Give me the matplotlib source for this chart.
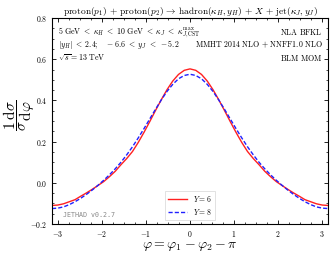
import numpy as np
import matplotlib
matplotlib.use("Agg")
import matplotlib.pyplot as plt
from matplotlib.ticker import MultipleLocator

plt.rcParams['mathtext.fontset'] = 'cm'
plt.rcParams['font.family'] = ['DejaVu Serif']

# phi = k*pi/24, k = -24..24 (values symmetric in phi)
phi = np.pi / 24 * np.arange(-24, 25)
half_y6 = [0.553, 0.546, 0.526, 0.494, 0.452, 0.403, 0.351, 0.297, 0.245, 0.196, 0.152, 0.118,
           0.088, 0.056, 0.030, 0.006, -0.013, -0.0315, -0.049, -0.065, -0.082, -0.092, -0.102, -0.108, -0.110]
half_y8 = [0.527, 0.521, 0.505, 0.478, 0.4435, 0.402, 0.357, 0.310, 0.263, 0.218, 0.175, 0.136,
           0.100, 0.068, 0.039, 0.0125, -0.012, -0.035, -0.056, -0.075, -0.092, -0.106, -0.117, -0.123, -0.125]
y6 = half_y6[::-1] + half_y6[1:]
y8 = half_y8[::-1] + half_y8[1:]

fig = plt.figure(figsize=(3.35, 2.56), dpi=100)
ax = fig.add_axes([52/335, 1 - 224/256, (328-52)/335, (224-18)/256])

ax.plot(phi, y6, color='#ff2020', lw=1.0, label=r'$Y = 6$')
ax.plot(phi, y8, color='#2020ff', lw=1.0, ls=(0, (3, 1.5)), label=r'$Y = 8$')

ax.set_xlim(-np.pi, np.pi)
ax.set_ylim(-0.2, 0.8)
ax.xaxis.set_major_locator(MultipleLocator(1))
ax.xaxis.set_minor_locator(MultipleLocator(0.25))
ax.yaxis.set_major_locator(MultipleLocator(0.2))
ax.yaxis.set_minor_locator(MultipleLocator(0.05))
ax.tick_params(which='both', direction='in', top=True, right=True, labelsize=5.5)
ax.tick_params(which='major', length=3, width=0.6)
ax.tick_params(which='minor', length=1.5, width=0.5)
for s in ax.spines.values():
    s.set_linewidth(0.8)
ax.set_xticks([-3, -2, -1, 0, 1, 2, 3])
ax.set_xticklabels([r'$-3$', r'$-2$', r'$-1$', r'$0$', r'$1$', r'$2$', r'$3$'])
ax.set_yticks([-0.2, 0.0, 0.2, 0.4, 0.6, 0.8])
ax.set_yticklabels([r'$-0.2$', r'$0.0$', r'$0.2$', r'$0.4$', r'$0.6$', r'$0.8$'])

ax.set_xlabel(r'$\varphi = \varphi_1 - \varphi_2 - \pi$', fontsize=10, labelpad=0)
fig.text(19/335, 1 - 115/256, r'$\dfrac{1}{\sigma}\dfrac{\mathrm{d}\sigma}{\mathrm{d}\varphi}$',
         fontsize=11, rotation=90, ha='center', va='center')
ax.set_title(r'$\mathrm{proton}(p_1)\, +\, \mathrm{proton}(p_2)\, \rightarrow\, \mathrm{hadron}(\kappa_H, y_H)\, +\, X\, +\, \mathrm{jet}(\kappa_J, y_J)$',
             fontsize=6.8, pad=3)

fs = 5.7
ax.text(0.02, 0.93, r'$5\ \mathrm{GeV}\ <\ \kappa_H\ <\ 10\ \mathrm{GeV}\ <\ \kappa_J\ <\ \kappa_{J,\mathrm{CST}}^{\mathrm{max}}$',
        transform=ax.transAxes, fontsize=fs, va='center', ha='left')
ax.text(0.02, 0.87, r'$|y_H|\ <\ 2.4;\ \ \ -6.6\ <\ y_J\ <\ -5.2$',
        transform=ax.transAxes, fontsize=fs, va='center', ha='left')
ax.text(0.02, 0.805, r'$\sqrt{s} = 13\ \mathrm{TeV}$',
        transform=ax.transAxes, fontsize=fs, va='center', ha='left')
ax.text(0.98, 0.93, r'$\mathrm{NLA\ BFKL}$', transform=ax.transAxes, fontsize=fs, va='center', ha='right')
ax.text(0.98, 0.87, r'$\mathrm{MMHT\ 2014\ NLO}\, +\, \mathrm{NNFF1.0\ NLO}$', transform=ax.transAxes, fontsize=fs, va='center', ha='right')
ax.text(0.98, 0.805, r'$\mathrm{BLM\ MOM}$', transform=ax.transAxes, fontsize=fs, va='center', ha='right')

ax.text(0.04, 0.03, 'JETHAD v0.2.7', transform=ax.transAxes, fontsize=4.8,
        family='DejaVu Sans Mono', color='#888888', va='bottom', ha='left')

leg = ax.legend(loc='lower center', fontsize=5.5, frameon=True, fancybox=False,
                handlelength=2.5, borderpad=0.4, labelspacing=0.4, bbox_to_anchor=(0.5, 0.0))
leg.get_frame().set_linewidth(0.5)
leg.get_frame().set_edgecolor('#cccccc')

fig.savefig('out.png', dpi=100)
